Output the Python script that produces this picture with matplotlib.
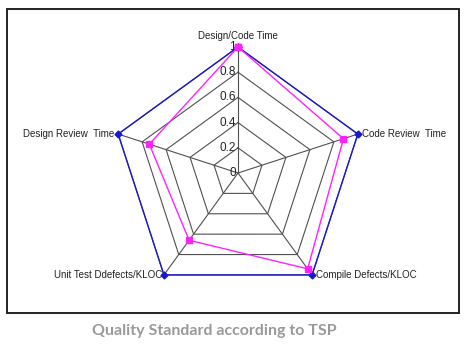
import matplotlib.pyplot as plt
import numpy as np
from matplotlib.patches import Rectangle

categories = ["Design/Code Time", "Code Review  Time", "Compile Defects/KLOC",
              "Unit Test Ddefects/KLOC", "Design Review  Time"]
standard = [1.0, 1.0, 1.0, 1.0, 1.0]
actual = [1.0, 0.88, 0.94, 0.66, 0.74]
ring_values = [0.2, 0.4, 0.6, 0.8, 1.0]
tick_labels = ["0", "0.2", "0.4", "0.6", "0.8", "1"]

plt.rcParams['font.family'] = ['Liberation Sans', 'DejaVu Sans']

fig = plt.figure(figsize=(4.7, 3.54), dpi=100)
fig.patch.set_facecolor('white')

# chart frame
fig.patches.append(Rectangle((7 / 470, 41 / 354), 452 / 470, 304 / 354,
                             transform=fig.transFigure, fill=False,
                             edgecolor='#222222', linewidth=1.4))

ax = fig.add_axes([112 / 470, 55 / 354, 252 / 470, 252 / 354], projection='polar')
ax.set_theta_offset(np.pi / 2)
ax.set_theta_direction(-1)
ax.set_ylim(0, 1)
ax.grid(False)
ax.spines['polar'].set_visible(False)
ax.set_xticks([])
ax.set_yticks([])
ax.patch.set_alpha(0)

n = len(categories)
angles = np.linspace(0, 2 * np.pi, n, endpoint=False)
closed = np.append(angles, angles[0])

# web grid
for r in ring_values:
    ax.plot(closed, [r] * (n + 1), color='#505050', lw=0.8, zorder=1)
for a in angles:
    ax.plot([a, a], [0, 1], color='#505050', lw=0.8, zorder=1)

# series
ax.plot(closed, standard + standard[:1], color='#1a1acc', lw=1.0,
        marker='D', markersize=3.5, zorder=3, clip_on=False)
ax.plot(closed, actual + actual[:1], color='#ff22ff', lw=1.0,
        marker='s', markersize=4.5, zorder=4, clip_on=False)

# radial tick labels
tick_pos = [0.0] + ring_values
for r, lab in zip(tick_pos, tick_labels):
    ax.annotate(lab, xy=(0, r), xytext=(-1.5, 0), textcoords='offset points',
                ha='right', va='center', fontsize=8.5, color='#222222')

# category labels
offsets = [((0, 4), 'center', 'bottom'),
           ((3, 0), 'left', 'center'),
           ((3, 0), 'left', 'center'),
           ((-1, 0), 'right', 'center'),
           ((-3, 0), 'right', 'center')]
for a, lab, (off, ha, va) in zip(angles, categories, offsets):
    ax.annotate(lab, xy=(a, 1), xytext=off, textcoords='offset points',
                ha=ha, va=va, fontsize=7, color='#222222')

fig.text(214 / 470, 1 - 331 / 354, "Quality Standard according to TSP",
         ha='center', va='center', fontsize=11.5, fontweight='bold',
         color='#999999', family=['Lato', 'DejaVu Sans'])

fig.savefig('out.png', dpi=100)
